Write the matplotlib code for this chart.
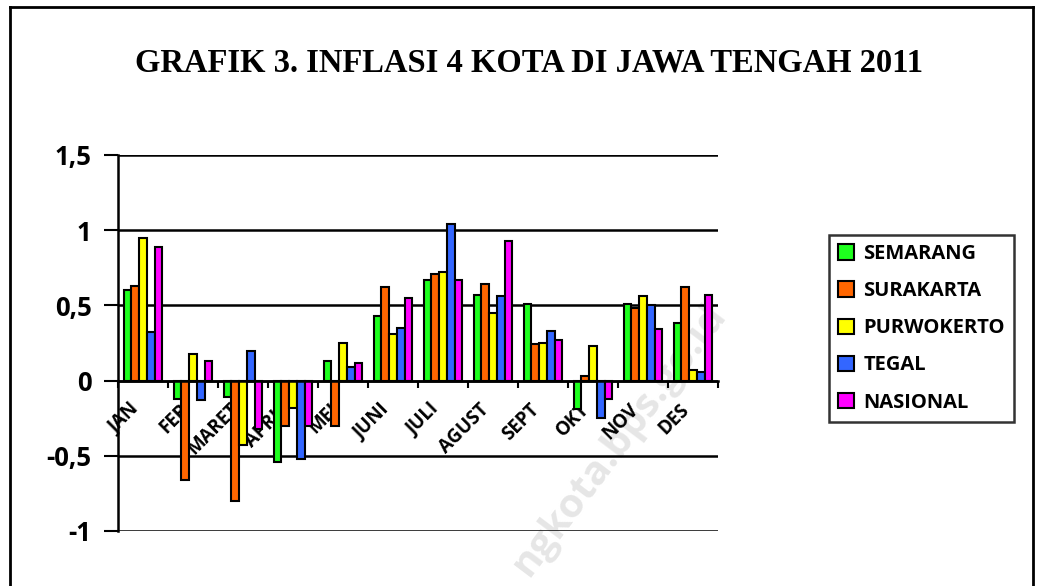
import numpy as np
import matplotlib.pyplot as plt
from matplotlib.lines import Line2D
from matplotlib.transforms import ScaledTranslation

# data
months = ['JAN', 'FEB', 'MARET', 'APRIL', 'MEI', 'JUNI', 'JULI', 'AGUST', 'SEPT', 'OKT', 'NOV', 'DES']
semarang = [0.60, -0.12, -0.11, -0.54, 0.13, 0.43, 0.67, 0.57, 0.51, -0.19, 0.51, 0.38]
surakarta = [0.63, -0.66, -0.80, -0.30, -0.30, 0.62, 0.71, 0.64, 0.24, 0.03, 0.48, 0.62]
purwokerto = [0.95, 0.18, -0.43, -0.18, 0.25, 0.31, 0.72, 0.45, 0.25, 0.23, 0.56, 0.07]
tegal = [0.32, -0.13, 0.20, -0.52, 0.09, 0.35, 1.04, 0.56, 0.33, -0.25, 0.50, 0.06]
nasional = [0.89, 0.13, -0.32, -0.30, 0.12, 0.55, 0.67, 0.93, 0.27, -0.12, 0.34, 0.57]

series = [semarang, surakarta, purwokerto, tegal, nasional]
names = ['SEMARANG', 'SURAKARTA', 'PURWOKERTO', 'TEGAL', 'NASIONAL']
colors = ['#1EFF1E', '#FF6600', '#FFFF00', '#3366FF', '#FF00FF']
font = 'Open Sans'

fig = plt.figure(figsize=(10.41, 5.86), dpi=100)

# watermark, behind the chart
fig.text(0.595, 0.25, 'ngkota.bps.go.id', rotation=53, ha='center', va='center',
         fontsize=29, fontweight='bold', color='#e6e6e6', family=font, zorder=-1)

ax = fig.add_axes([0.1134, 0.0939, 0.5763, 0.6416])
ax.patch.set_alpha(0)

x = np.arange(len(months))
w = 0.155
for i, (vals, name, c) in enumerate(zip(series, names, colors)):
    ax.bar(x + (i - 2) * w, vals, w, color=c, edgecolor='black', linewidth=1.5,
           label=name, zorder=3)

ax.set_xlim(-0.5, 11.5)
ax.set_ylim(-1, 1.5)
ax.set_yticks([-1, -0.5, 0, 0.5, 1, 1.5])
ax.set_yticklabels(['-1', '-0,5', '0', '0,5', '1', '1,5'], fontsize=18.5,
                   fontweight='bold', family=font)
ax.yaxis.grid(True, color='black', linewidth=1.8)
ax.set_axisbelow(True)
ax.tick_params(axis='y', length=10, width=1.5, pad=9)

for s in ['top', 'right']:
    ax.spines[s].set_visible(False)
ax.spines['left'].set_linewidth(1.8)
ax.spines['bottom'].set_position(('data', 0))
ax.spines['bottom'].set_linewidth(1.8)
ax.spines['bottom'].set_zorder(4)

# month labels sit under the zero line, behind the bars
ax.set_xticks(x)
ax.set_xticklabels([])
ax.tick_params(axis='x', which='major', length=0)
ax.set_xticks(np.arange(-0.5, 12, 1), minor=True)
ax.tick_params(axis='x', which='minor', length=5, width=1.5, direction='out')
shift = ax.transData + ScaledTranslation(-0.07, -0.26, fig.dpi_scale_trans)
for xi, m in zip(x, months):
    ax.text(xi, 0, m, transform=shift, rotation=45, ha='right', va='center',
            rotation_mode='anchor', fontsize=13.5, fontweight='bold',
            family=font, zorder=2)

leg = ax.legend(loc='upper left', bbox_to_anchor=(829 / 1041, 1 - 235 / 586),
                bbox_transform=fig.transFigure, frameon=True,
                fancybox=False, edgecolor='black', handlelength=0.8,
                handleheight=0.8, handletextpad=0.45, labelspacing=0.85,
                prop={'family': font, 'weight': 'bold', 'size': 14.5},
                borderpad=0.45, borderaxespad=0)
leg.get_frame().set_linewidth(1.8)

fig.text(0.508, 0.892, 'GRAFIK 3. INFLASI 4 KOTA DI JAWA TENGAH 2011',
         ha='center', va='center', fontsize=23.5, fontweight='bold',
         family='Liberation Serif')

# outer frame (bottom edge is cropped off)
fig.add_artist(Line2D([10 / 1041, 10 / 1041], [0, 1 - 7 / 586], color='black', lw=2))
fig.add_artist(Line2D([10 / 1041, 1033 / 1041], [1 - 7 / 586, 1 - 7 / 586], color='black', lw=2))
fig.add_artist(Line2D([1033 / 1041, 1033 / 1041], [0, 1 - 7 / 586], color='black', lw=2))

fig.savefig('out.png', dpi=100)
